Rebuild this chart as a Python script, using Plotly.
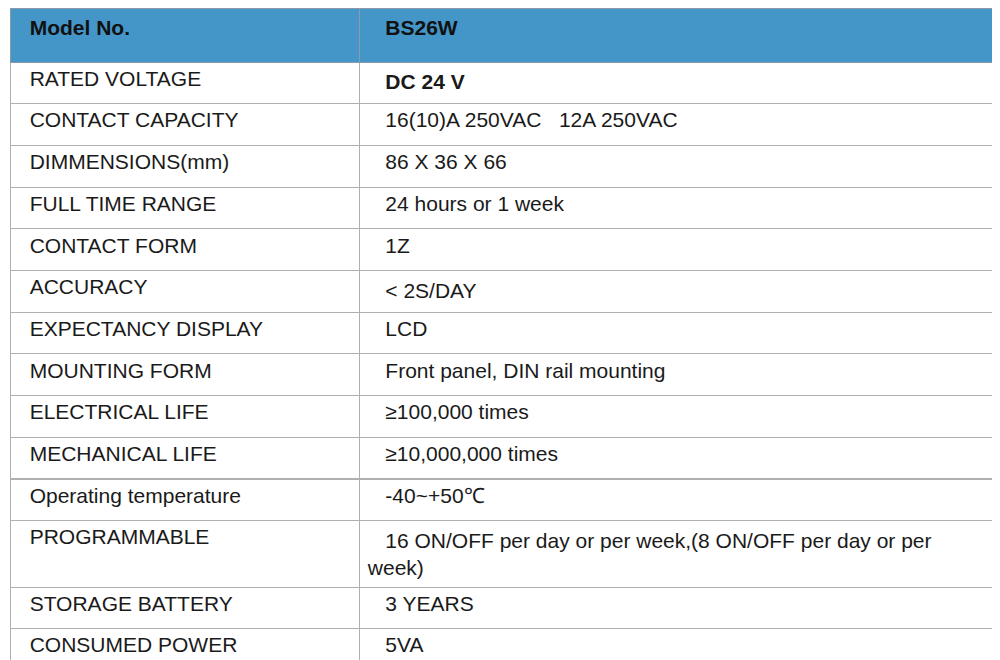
import plotly.graph_objects as go

header = ["Model No.", "BS26W"]
params = ["RATED VOLTAGE", "CONTACT CAPACITY", "DIMMENSIONS(mm)", "FULL TIME RANGE",
          "CONTACT FORM", "ACCURACY", "EXPECTANCY DISPLAY", "MOUNTING FORM",
          "ELECTRICAL LIFE", "MECHANICAL LIFE", "Operating temperature",
          "PROGRAMMABLE", "STORAGE BATTERY", "CONSUMED POWER"]
values = ["<b>DC 24 V</b>", "16(10)A 250VAC   12A 250VAC", "86 X 36 X 66", "24 hours or 1 week",
          "1Z", "< 2S/DAY", "LCD", "Front panel, DIN rail mounting",
          "≥100,000 times", "≥10,000,000 times", "-40~+50℃",
          "16 ON/OFF per day or per week,(8 ON/OFF per day or per week)",
          "3 YEARS", "5VA"]

pad1 = "\u00a0" * 2
pad2 = "\u00a0" * 3
fig = go.Figure(go.Table(
    domain=dict(x=[0.002, 0.992], y=[0.0, 1.0]),
    columnwidth=[347, 635],
    header=dict(values=[f"<b>{pad1}{header[0]}</b>", f"<b>{pad2}{header[1]}</b>"],
                fill_color="#4495c8", line_color="#8a9aa8", align="left", height=54,
                font=dict(family="Liberation Sans, Arial", size=21, color="#111")),
    cells=dict(values=[[pad1 + p for p in params], [pad2 + v for v in values]],
               fill_color="white", line_color="#b0b0b0", align="left", height=41.7,
               font=dict(family="Liberation Sans, Arial", size=21, color="#1a1a1a")),
))
fig.update_layout(width=1000, height=660, margin=dict(l=0, r=0, t=0, b=0),
                  paper_bgcolor="white")
fig.write_html("out.html")
